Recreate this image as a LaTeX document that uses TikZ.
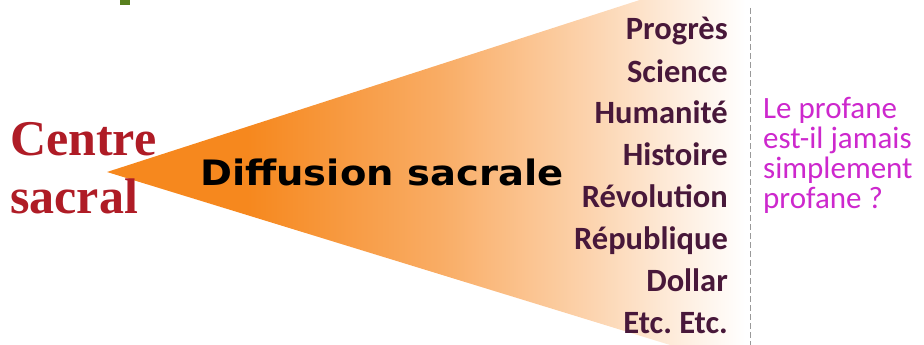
\documentclass[tikz,border=0pt]{standalone}
\usepackage{fontspec}
\setmainfont{Liberation Serif}
\newfontfamily\calib{Carlito}
\newfontfamily\dvs{DejaVu Sans}
\definecolor{sacred}{RGB}{175,28,38}
\definecolor{listcol}{RGB}{72,24,58}
\definecolor{magtext}{RGB}{205,40,205}
\definecolor{orangeA}{RGB}{246,136,30}
\definecolor{orangeB}{RGB}{249,172,100}
\definecolor{orangeC}{RGB}{252,212,175}
\definecolor{greenbit}{RGB}{88,128,30}
\pgfdeclarehorizontalshading{diffshade}{100bp}{
  color(0bp)=(orangeA); color(25bp)=(orangeA); color(36bp)=(orangeA);
  color(51bp)=(orangeB); color(63bp)=(orangeC); color(70bp)=(white!60!orangeC);
  color(75bp)=(white); color(100bp)=(white)}
\tikzset{
  listitem/.style={anchor=base east, text=listcol, inner sep=0pt,
    font=\calib\bfseries\fontsize{32.5}{32.5}\selectfont},
  magline/.style={anchor=base west, text=magtext, inner sep=0pt,
    font=\calib\fontsize{31}{31}\selectfont},
  centreline/.style={anchor=base west, text=sacred, inner sep=0pt,
    font=\bfseries\fontsize{50}{50}\selectfont}
}
\begin{document}
\frenchspacing
\begin{tikzpicture}[x=1pt,y=-1pt]
\useasboundingbox (0,0) rectangle (924,345);
\begin{scope}
\clip (0,0) rectangle (924,345);
\coordinate (apex) at (107,172);
\coordinate (tr) at (745,-34);
\coordinate (br) at (745,368);
\shade[shading=diffshade] (apex) -- (tr) -- (br) -- cycle;
\fill[greenbit] (120,-2) rectangle (130,5);
\end{scope}
\node[centreline] (c1) at (10,155) {Centre};
\node[centreline] (c2) at (10,213) {sacral};
\node[anchor=base west, inner sep=0pt, xscale=1.1, font=\dvs\bfseries\fontsize{35}{35}\selectfont] (diff) at (200,185) {Diffusion sacrale};
\node[listitem] (l1) at (728,40) {Progrès};
\node[listitem] (l2) at (728,82) {Science};
\node[listitem] (l3) at (728,124) {Humanité};
\node[listitem] (l4) at (728,165) {Histoire};
\node[listitem] (l5) at (728,207) {Révolution};
\node[listitem] (l6) at (728,249) {République};
\node[listitem] (l7) at (728,291) {Dollar};
\node[listitem] (l8) at (728,333) {Etc.\ Etc.};
\coordinate (dtop) at (750,8);
\coordinate (dbot) at (750,345);
\draw[gray!80, line width=1pt, dash pattern=on 6pt off 3pt] (dtop) -- (dbot);
\node[magline] (m1) at (763,118) {Le profane};
\node[magline] (m2) at (763,148) {est-il jamais};
\node[magline] (m3) at (763,178) {simplement};
\node[magline] (m4) at (763,208) {profane ?};
\end{tikzpicture}
\end{document}
